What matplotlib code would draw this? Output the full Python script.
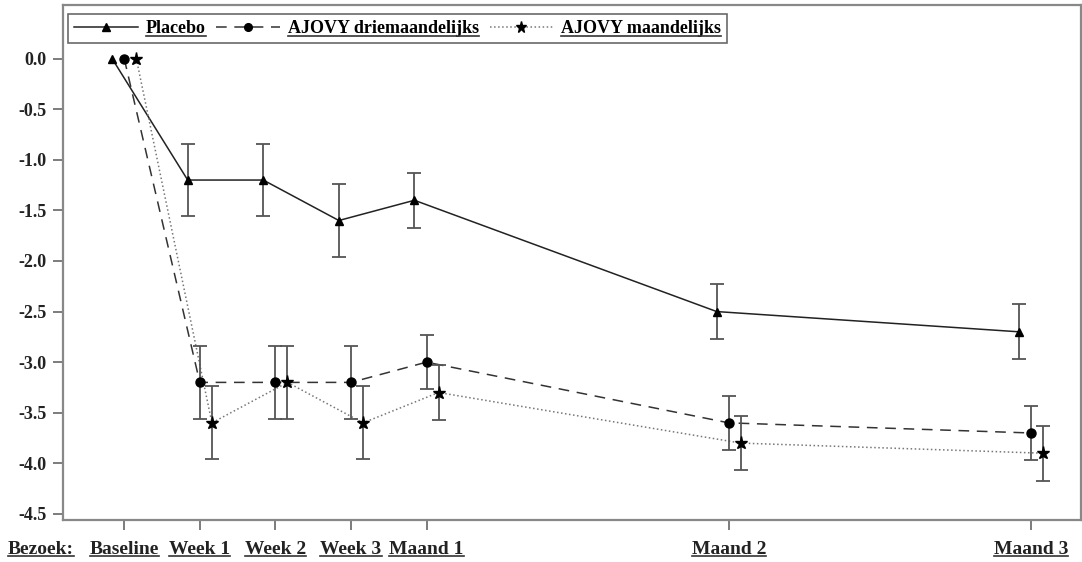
"""Mean change from baseline per visit: Placebo vs AJOVY (quarterly / monthly)."""

import matplotlib
matplotlib.use("Agg")
import matplotlib.pyplot as plt
from matplotlib.lines import Line2D

visits = ["Baseline", "Week 1", "Week 2", "Week 3", "Maand 1", "Maand 2", "Maand 3"]
visit_weeks = [0, 1, 2, 3, 4, 8, 12]

placebo = [0.0, -1.2, -1.2, -1.6, -1.4, -2.5, -2.7]
placebo_err = [0.0, 0.36, 0.36, 0.36, 0.27, 0.27, 0.27]

quarterly = [0.0, -3.2, -3.2, -3.2, -3.0, -3.6, -3.7]
quarterly_err = [0.0, 0.36, 0.36, 0.36, 0.27, 0.27, 0.27]

monthly = [0.0, -3.6, -3.2, -3.6, -3.3, -3.8, -3.9]
monthly_err = [0.0, 0.36, 0.36, 0.36, 0.27, 0.27, 0.27]

yticks = [0.0, -0.5, -1.0, -1.5, -2.0, -2.5, -3.0, -3.5, -4.0, -4.5]

FONT = "Liberation Serif"


def main() -> None:
    plt.rcParams["font.family"] = FONT
    plt.rcParams["font.weight"] = "bold"

    fig = plt.figure(figsize=(10.82, 5.62), dpi=100)
    ax = fig.add_axes([63 / 1082, 1 - 520 / 562, (1081 - 63) / 1082, (520 - 5) / 562])

    series = [
        (placebo, placebo_err, -0.16, "-", "^", 6, "#222222", "Placebo"),
        (quarterly, quarterly_err, 0.0, (0, (7, 5)), "o", 6.5, "#333333", "AJOVY driemaandelijks"),
        (monthly, monthly_err, 0.16, ":", "*", 9.5, "#777777", "AJOVY maandelijks"),
    ]
    handles = []
    for values, err, offset, ls, marker, ms, color, label in series:
        xs = [w + offset for w in visit_weeks]
        ax.plot(xs, values, linestyle=ls, color=color, lw=1.1, zorder=2)
        ax.errorbar(xs[1:], values[1:], yerr=err[1:], fmt="none", ecolor="#555555",
                    elinewidth=1.3, capsize=5, capthick=1.3, zorder=3)
        ax.plot(xs, values, linestyle="none", marker=marker, ms=ms, color="black", zorder=4)
        handles.append(Line2D([], [], linestyle=ls, color=color, lw=1.1,
                              marker=marker, ms=ms * 0.85, markerfacecolor="black",
                              markeredgecolor="black", label=label))

    ax.set_xlim(-0.81, 12.66)
    ax.set_ylim(-4.56, 0.53)
    ax.set_xticks(visit_weeks)
    ax.set_xticklabels(visits)
    ax.set_yticks(yticks)
    ax.set_yticklabels([f"{v:.1f}" for v in yticks])
    ax.tick_params(axis="both", direction="out", length=7, width=1.2, color="#666666",
                   labelsize=13)
    ax.tick_params(axis="x", pad=8, labelsize=14)
    ax.tick_params(axis="y", pad=5)
    for label in ax.get_xticklabels() + ax.get_yticklabels():
        label.set_fontweight("bold")
        label.set_color("#222222")
    for spine in ax.spines.values():
        spine.set_color("#888888")
        spine.set_linewidth(1.6)

    leg = ax.legend(handles=handles, loc="upper left", bbox_to_anchor=(0.005, 0.983),
                    borderaxespad=0, ncol=3, frameon=True, fancybox=False,
                    handlelength=3.5, handletextpad=0.45, columnspacing=0.6,
                    borderpad=0.35, prop={"family": FONT, "weight": "bold", "size": 13})
    leg.get_frame().set_edgecolor("#444444")
    leg.get_frame().set_linewidth(1.2)

    bezoek = ax.text(0, 0, "Bezoek:", transform=ax.get_xaxis_transform(),
                     fontsize=14, fontweight="bold", color="#222222", ha="left", va="top")

    # place "Bezoek:" level with the tick labels, then underline all these labels
    fig.canvas.draw()
    renderer = fig.canvas.get_renderer()
    tick_bb = ax.get_xticklabels()[0].get_window_extent(renderer)
    inv = ax.get_xaxis_transform().inverted()
    x_left, y_top = inv.transform((8, tick_bb.y1))
    bezoek.set_position((x_left, y_top))
    fig.canvas.draw()

    W, H = fig.bbox.width, fig.bbox.height
    texts = list(ax.get_xticklabels()) + [bezoek] + list(leg.get_texts())
    for t in texts:
        bb = t.get_window_extent(renderer)
        y = bb.y0 + 1.5
        fig.add_artist(Line2D([bb.x0 / W, bb.x1 / W], [y / H, y / H],
                              transform=fig.transFigure, color="#333333", lw=1.2))

    fig.savefig("out.png", dpi=100)
    plt.close(fig)


if __name__ == "__main__":
    main()
